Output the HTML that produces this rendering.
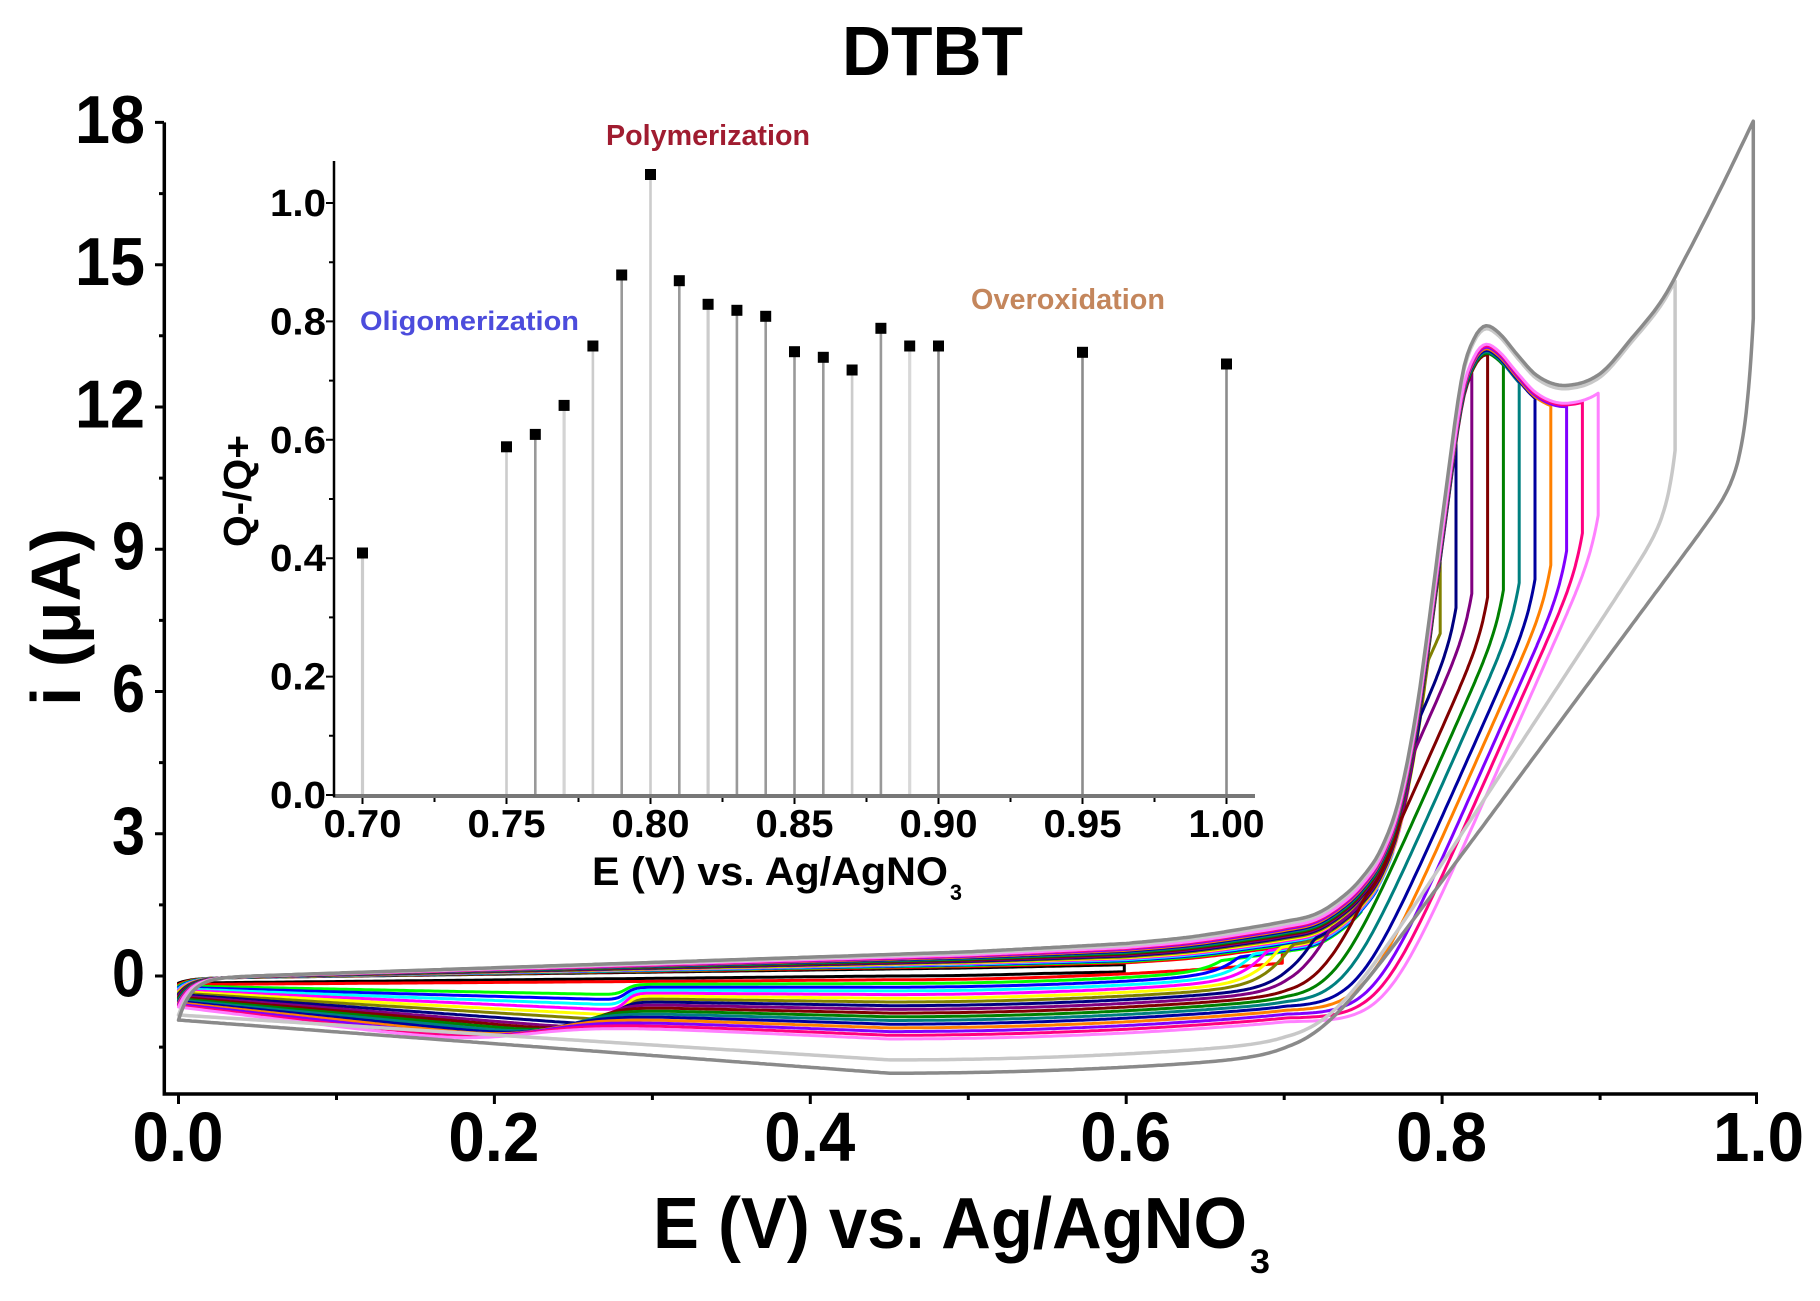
<!DOCTYPE html>
<html>
<head>
<meta charset="utf-8">
<style>
html,body{margin:0;padding:0;background:#fff;}
svg{display:block;}
text{font-family:"Liberation Sans",Arial,sans-serif;font-weight:bold;fill:#000;}
</style>
</head>
<body>
<svg id="s" width="1820" height="1301" viewBox="0 0 1820 1301" xmlns="http://www.w3.org/2000/svg">
<rect width="1820" height="1301" fill="#fff"/>

<!-- Title -->
<text x="842" y="75" font-size="70" textLength="181" lengthAdjust="spacingAndGlyphs">DTBT</text>

<!-- CV curves -->
<g id="cv" fill="none" stroke-linejoin="round" stroke-linecap="round"></g>

<!-- Main axes -->
<path d="M164.3,122.4 V1094 H1758" stroke="#000" stroke-width="3.5" fill="none"/>
<g stroke="#000" stroke-width="3">
<path d="M164,122.4h-9M164,264.7h-9M164,407h-9M164,549.2h-9M164,691.5h-9M164,833.7h-9M164,976h-9"/>
<path d="M164,193.6h-5M164,335.8h-5M164,478.1h-5M164,620.4h-5M164,762.6h-5M164,904.9h-5M164,1047.1h-5"/>
<path d="M178.5,1094v10M494.4,1094v10M810.3,1094v10M1126.2,1094v10M1442.1,1094v10M1756.5,1094v10"/>
<path d="M336.5,1094v6M652.4,1094v6M968.3,1094v6M1284.2,1094v6M1600.1,1094v6"/>
</g>

<!-- Main y tick labels -->
<g font-size="68">
<text x="75" y="143" textLength="70" lengthAdjust="spacingAndGlyphs">18</text>
<text x="75" y="285" textLength="70" lengthAdjust="spacingAndGlyphs">15</text>
<text x="75" y="427.5" textLength="70" lengthAdjust="spacingAndGlyphs">12</text>
<text x="112" y="569.7" textLength="33" lengthAdjust="spacingAndGlyphs">9</text>
<text x="112" y="712" textLength="33" lengthAdjust="spacingAndGlyphs">6</text>
<text x="112" y="854.2" textLength="33" lengthAdjust="spacingAndGlyphs">3</text>
<text x="112" y="996.5" textLength="33" lengthAdjust="spacingAndGlyphs">0</text>
</g>
<!-- Main x tick labels -->
<g font-size="70">
<text x="132.5" y="1161" textLength="91" lengthAdjust="spacingAndGlyphs">0.0</text>
<text x="448.4" y="1161" textLength="91" lengthAdjust="spacingAndGlyphs">0.2</text>
<text x="764.3" y="1161" textLength="91" lengthAdjust="spacingAndGlyphs">0.4</text>
<text x="1080.2" y="1161" textLength="91" lengthAdjust="spacingAndGlyphs">0.6</text>
<text x="1396.1" y="1161" textLength="91" lengthAdjust="spacingAndGlyphs">0.8</text>
<text x="1713" y="1161" textLength="91" lengthAdjust="spacingAndGlyphs">1.0</text>
</g>
<!-- Main axis titles -->
<text x="653" y="1248" font-size="72" textLength="594" lengthAdjust="spacingAndGlyphs">E (V) vs. Ag/AgNO</text>
<text x="1250" y="1273" font-size="34" textLength="20" lengthAdjust="spacingAndGlyphs">3</text>
<text transform="translate(80,706) rotate(-90)" font-size="70" textLength="178" lengthAdjust="spacingAndGlyphs">i (μA)</text>

<!-- Inset stems -->
<g stroke-width="2.6">
<line x1="362.5" y1="553" x2="362.5" y2="795" stroke="#cccccc" stroke-width="3.2"/>
<line x1="506.5" y1="446.8" x2="506.5" y2="795" stroke="#cccccc"/>
<line x1="535.3" y1="434.4" x2="535.3" y2="795" stroke="#999999"/>
<line x1="564.1" y1="405.4" x2="564.1" y2="795" stroke="#d4d4d4" stroke-width="3.2"/>
<line x1="592.9" y1="346" x2="592.9" y2="795" stroke="#cccccc"/>
<line x1="621.7" y1="275" x2="621.7" y2="795" stroke="#999999"/>
<line x1="650.5" y1="174.5" x2="650.5" y2="795" stroke="#cccccc"/>
<line x1="679.3" y1="280.7" x2="679.3" y2="795" stroke="#999999"/>
<line x1="708.1" y1="304.3" x2="708.1" y2="795" stroke="#cccccc" stroke-width="3.2"/>
<line x1="736.9" y1="310.3" x2="736.9" y2="795" stroke="#999999"/>
<line x1="765.7" y1="316.3" x2="765.7" y2="795" stroke="#999999"/>
<line x1="794.5" y1="351.7" x2="794.5" y2="795" stroke="#999999"/>
<line x1="823.3" y1="357.3" x2="823.3" y2="795" stroke="#999999"/>
<line x1="852.1" y1="370" x2="852.1" y2="795" stroke="#cccccc"/>
<line x1="880.9" y1="328.3" x2="880.9" y2="795" stroke="#999999"/>
<line x1="909.7" y1="346" x2="909.7" y2="795" stroke="#d8d8d8" stroke-width="3.2"/>
<line x1="938.5" y1="346" x2="938.5" y2="795" stroke="#8c8c8c"/>
<line x1="1082.5" y1="352.3" x2="1082.5" y2="795" stroke="#8c8c8c"/>
<line x1="1226.5" y1="364" x2="1226.5" y2="795" stroke="#8c8c8c"/>
</g>
<!-- Inset markers -->
<g fill="#000">
<rect x="357" y="547.5" width="11" height="11"/>
<rect x="501" y="441.3" width="11" height="11"/>
<rect x="529.8" y="428.9" width="11" height="11"/>
<rect x="558.6" y="399.9" width="11" height="11"/>
<rect x="587.4" y="340.5" width="11" height="11"/>
<rect x="616.2" y="269.5" width="11" height="11"/>
<rect x="645" y="169" width="11" height="11"/>
<rect x="673.8" y="275.2" width="11" height="11"/>
<rect x="702.6" y="298.8" width="11" height="11"/>
<rect x="731.4" y="304.8" width="11" height="11"/>
<rect x="760.2" y="310.8" width="11" height="11"/>
<rect x="789" y="346.2" width="11" height="11"/>
<rect x="817.8" y="351.8" width="11" height="11"/>
<rect x="846.6" y="364.5" width="11" height="11"/>
<rect x="875.4" y="322.8" width="11" height="11"/>
<rect x="904.2" y="340.5" width="11" height="11"/>
<rect x="933" y="340.5" width="11" height="11"/>
<rect x="1077" y="346.8" width="11" height="11"/>
<rect x="1221" y="358.5" width="11" height="11"/>
</g>

<!-- Inset axes -->
<line x1="333" y1="796" x2="1255" y2="796" stroke="#777" stroke-width="4"/>
<line x1="334" y1="161" x2="334" y2="797" stroke="#000" stroke-width="2.5"/>
<g stroke="#000" stroke-width="2">
<path d="M333,203h-7M333,321.4h-7M333,439.8h-7M333,558.2h-7M333,676.6h-7M333,795h-7"/>
<path d="M333,262.2h-4M333,380.6h-4M333,499h-4M333,617.4h-4M333,735.8h-4"/>
<path d="M362.5,798v6M506.5,798v6M650.5,798v6M794.5,798v6M938.5,798v6M1082.5,798v6M1226.5,798v6"/>
<path d="M434.5,798v4M578.5,798v4M722.5,798v4M866.5,798v4M1010.5,798v4M1154.5,798v4"/>
</g>
<!-- Inset tick labels -->
<g font-size="38">
<text x="270" y="216" textLength="56" lengthAdjust="spacingAndGlyphs">1.0</text>
<text x="270" y="334.4" textLength="56" lengthAdjust="spacingAndGlyphs">0.8</text>
<text x="270" y="452.8" textLength="56" lengthAdjust="spacingAndGlyphs">0.6</text>
<text x="270" y="571.2" textLength="56" lengthAdjust="spacingAndGlyphs">0.4</text>
<text x="270" y="689.6" textLength="56" lengthAdjust="spacingAndGlyphs">0.2</text>
<text x="270" y="808" textLength="56" lengthAdjust="spacingAndGlyphs">0.0</text>
</g>
<g font-size="39">
<text x="323.5" y="837" textLength="78" lengthAdjust="spacingAndGlyphs">0.70</text>
<text x="467.5" y="837" textLength="78" lengthAdjust="spacingAndGlyphs">0.75</text>
<text x="611.5" y="837" textLength="78" lengthAdjust="spacingAndGlyphs">0.80</text>
<text x="755.5" y="837" textLength="78" lengthAdjust="spacingAndGlyphs">0.85</text>
<text x="899.5" y="837" textLength="78" lengthAdjust="spacingAndGlyphs">0.90</text>
<text x="1043.5" y="837" textLength="78" lengthAdjust="spacingAndGlyphs">0.95</text>
<text x="1188.5" y="837" textLength="76" lengthAdjust="spacingAndGlyphs">1.00</text>
</g>
<!-- Inset axis titles -->
<text x="592" y="885" font-size="40" textLength="356" lengthAdjust="spacingAndGlyphs">E (V) vs. Ag/AgNO</text>
<text x="950" y="900" font-size="22" textLength="12" lengthAdjust="spacingAndGlyphs">3</text>
<text transform="translate(251,547) rotate(-90)" font-size="39" textLength="112" lengthAdjust="spacingAndGlyphs">Q-/Q+</text>

<!-- Annotations -->
<text x="606" y="145" font-size="29" fill="#a01c30" style="fill:#a01c30" textLength="204" lengthAdjust="spacingAndGlyphs">Polymerization</text>
<text x="360" y="330" font-size="27" fill="#4c4cdc" style="fill:#4c4cdc" textLength="219" lengthAdjust="spacingAndGlyphs">Oligomerization</text>
<text x="971" y="309" font-size="29" fill="#c4865c" style="fill:#c4865c" textLength="194" lengthAdjust="spacingAndGlyphs">Overoxidation</text>
</svg>

<script>
(function(){
var NS='http://www.w3.org/2000/svg';
function X(v){return 178.5+1579.5*v;}
function Y(i){return 976-47.42*i;}
var T=[[0.60,0],[0.64,0.06],[0.68,0.19],[0.70,0.27],[0.72,0.39],[0.735,0.67],[0.748,1.05],[0.762,1.72],[0.773,2.74],[0.784,4.6],[0.79,6.0],[0.8026,9.2],[0.813,11.6],[0.82,12.3],[0.828,12.57],[0.836,12.4],[0.848,11.9],[0.86,11.45],[0.8786,11.2],[0.90,11.4],[0.92,12.1],[0.94,12.9],[0.952,13.6],[0.975,15.04],[1.0,16.7]];
var n=T.length,d=[],m=[],i;
for(i=0;i<n-1;i++)d.push((T[i+1][1]-T[i][1])/(T[i+1][0]-T[i][0]));
m[0]=d[0];m[n-1]=d[n-2];
for(i=1;i<n-1;i++)m[i]=(d[i-1]*d[i]<=0)?0:(d[i-1]+d[i])/2;
for(i=0;i<n-1;i++){
  if(d[i]===0){m[i]=0;m[i+1]=0;continue;}
  var a=m[i]/d[i],b=m[i+1]/d[i],s=a*a+b*b;
  if(s>9){var t=3/Math.sqrt(s);m[i]=t*a*d[i];m[i+1]=t*b*d[i];}
}
function R(E){
  if(E<=T[0][0])return 0;
  if(E>=T[n-1][0])return T[n-1][1];
  var k=0;while(E>T[k+1][0])k++;
  var h=T[k+1][0]-T[k][0],t=(E-T[k][0])/h,t2=t*t,t3=t2*t;
  return (2*t3-3*t2+1)*T[k][1]+(t3-2*t2+t)*h*m[k]+(-2*t3+3*t2)*T[k+1][1]+(t3-t2)*h*m[k+1];
}
function sp(x){return x>30?x:Math.log(1+Math.exp(x));}
var C=[
['#000000',0.60,0.17,0.00],
['#FF0000',0.70,0.20,-0.08],
['#00FF00',0.75,0.22,-0.158],
['#0000FF',0.76,0.235,-0.236],
['#00FFFF',0.77,0.25,-0.314],
['#FF00FF',0.78,0.265,-0.392],
['#FFFF00',0.79,0.28,-0.47],
['#808000',0.80,0.295,-0.548],
['#000080',0.81,0.31,-0.626,0.805],
['#800080',0.82,0.325,-0.704,0.811],
['#800000',0.83,0.34,-0.782,0.822],
['#008000',0.84,0.355,-0.86,0.830],
['#008080',0.85,0.37,-0.938,0.838],
['#0000A0',0.86,0.385,-1.016,0.847],
['#FF8000',0.87,0.40,-1.094,0.853],
['#8000FF',0.88,0.415,-1.172,0.859],
['#FF0080',0.89,0.43,-1.25,0.864],
['#FF80FF',0.90,0.445,-1.328,0.869],
['#C8C8C8',0.9475,0.48,-1.77],
['#8A8A8A',0.997,0.51,-2.05]
];
function base(c,E){var f0=-0.05,f5=c[2];return E<0.5?f0+(f5-f0)*E/0.5:f5+(f5-f0)*(Math.pow(E/0.5,1.5)-1);}
function br(E){if(E<=0.45)return 0;var u=(E-0.45)/0.23;return 0.3*Math.min(u*u,1.2);}
function bas(c,E){var L=c[3];var r=L+br(E);if(E<0.45)r+=(-0.62*L-0.15)*(1-E/0.45);return r;}
var g=document.getElementById('cv');
C.forEach(function(c,k){
  var Esw=k>=18?c[1]:c[1]-0.0012;
  var S,w,E0,Aq=0,tq=0.005;
  if(k<2){S=0;w=0.012;E0=0;}
  else if(k<8){S=75;w=0.012;E0=0.675+(k-2)*0.005;}
  else if(k<18){S=75;w=0.012;E0=c[4]-(6.88-bas(c,c[4]))/S;Aq=0.6;}
  else if(k===18){S=51;w=0.015;E0=0.726;Aq=1.2;}
  else {S=45;w=0.015;E0=0.718;Aq=3;}
  var gk=k>=18?1:0.98;
  var Ed,A,sd;
  if(k>=2&&k<=17){Ed=k<=7?0.283:0.283-(k-7)*0.007;A=Math.min(0.55,0.12+0.05*k);sd=k<=7?0.003:0.003+(k-7)*0.002;}
  else{A=0;Ed=0.3;sd=0.01;}
  function Fb(E){return base(c,E)+gk*R(E);}
  function Rv(E){
    var r=bas(c,E)+(S?S*w*sp((E-E0)/w):0)+Aq*Math.exp(-(Esw-E)/tq);
    if(A)r-=A*(E/Ed)/(1+Math.exp((E-Ed)/sd));
    if(E>0.55){var f=Fb(E)-0.15;if(r>f)r=f;}
    return r;
  }
  var r0=Rv(0);
  function Fw(E){return Fb(E)+(r0+0.05)*Math.exp(-E/0.008);}
  var p=[],E=0;
  while(E<Esw){p.push(X(E).toFixed(1)+','+Y(Fw(E)).toFixed(1));E+=E<0.03?0.001:0.002;}
  p.push(X(Esw).toFixed(1)+','+Y(Fw(Esw)).toFixed(1));
  E=Esw;
  while(E>0){p.push(X(E).toFixed(1)+','+Y(Rv(E)).toFixed(1));E-=(Esw-E)<0.02?0.0005:0.002;}
  p.push(X(0).toFixed(1)+','+Y(Rv(0)).toFixed(1));
  var el=document.createElementNS(NS,'path');
  el.setAttribute('d','M'+p.join('L'));
  el.setAttribute('stroke',c[0]);
  el.setAttribute('stroke-width',k>=18?'3.5':'3');
  g.appendChild(el);
});
})();
</script>
</body>
</html>
